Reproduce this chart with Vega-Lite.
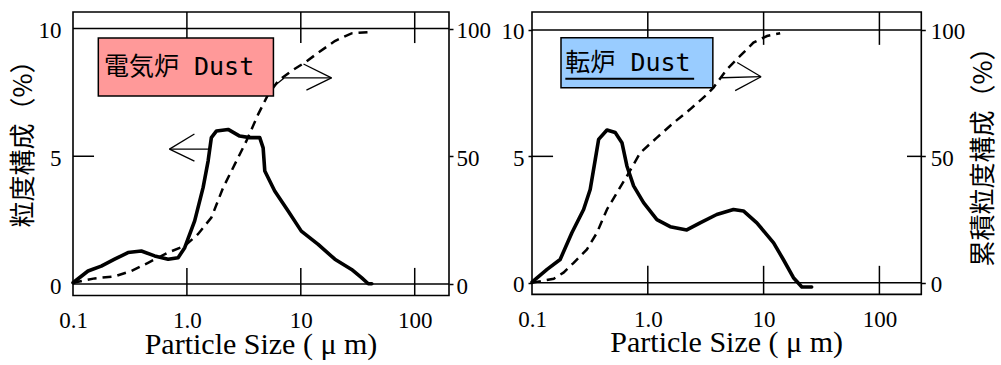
{
  "$schema": "https://vega.github.io/schema/vega-lite/v6.json",
  "background": "white",
  "padding": {"left": 9, "top": 10, "right": 0, "bottom": 0},
  "autosize": {"type": "pad"},
  "config": {
    "view": {"stroke": "black", "strokeWidth": 1.6},
    "axis": {"labelColor": "black", "titleColor": "black"},
    "title": {"font": "Liberation Serif", "fontSize": 30, "fontWeight": "normal", "color": "black"}
  },
  "datasets": {
    "efd": [
      {"size": 0.1, "pct": 0.05}, {"size": 0.1355, "pct": 0.51}, {"size": 0.177, "pct": 0.7}, {"size": 0.232, "pct": 0.97},
      {"size": 0.304, "pct": 1.23}, {"size": 0.398, "pct": 1.29}, {"size": 0.521, "pct": 1.1}, {"size": 0.684, "pct": 0.97},
      {"size": 0.837, "pct": 1.03}, {"size": 0.957, "pct": 1.42}, {"size": 1.17, "pct": 2.47}, {"size": 1.387, "pct": 3.77},
      {"size": 1.535, "pct": 4.81}, {"size": 1.64, "pct": 5.73}, {"size": 1.82, "pct": 5.99}, {"size": 2.3, "pct": 6.05},
      {"size": 2.91, "pct": 5.79}, {"size": 3.56, "pct": 5.73}, {"size": 4.36, "pct": 5.73}, {"size": 4.67, "pct": 5.33},
      {"size": 4.83, "pct": 4.42}, {"size": 5.9, "pct": 3.64}, {"size": 7.74, "pct": 2.86}, {"size": 10.1, "pct": 2.07},
      {"size": 14.2, "pct": 1.55}, {"size": 19.9, "pct": 0.97}, {"size": 27.9, "pct": 0.57}, {"size": 34.1, "pct": 0.25},
      {"size": 39.1, "pct": 0.01}, {"size": 42.0, "pct": 0.01}
    ],
    "efc": [
      {"size": 0.1, "cum": 0.5}, {"size": 0.155, "cum": 2.2}, {"size": 0.232, "cum": 3.0}, {"size": 0.325, "cum": 5.1},
      {"size": 0.456, "cum": 8.3}, {"size": 0.684, "cum": 12.3}, {"size": 0.957, "cum": 14.9}, {"size": 1.25, "cum": 19.5},
      {"size": 1.64, "cum": 26}, {"size": 2.08, "cum": 37.7}, {"size": 2.63, "cum": 46.8}, {"size": 3.33, "cum": 56},
      {"size": 4.22, "cum": 66.4}, {"size": 5.17, "cum": 74.2}, {"size": 6.33, "cum": 79.5}, {"size": 8.28, "cum": 83.4},
      {"size": 10.8, "cum": 86.6}, {"size": 14.2, "cum": 90.5}, {"size": 19.9, "cum": 95.1}, {"size": 27.9, "cum": 98.1},
      {"size": 42, "cum": 98.7}
    ],
    "bofd": [
      {"size": 0.1, "pct": 0.03}, {"size": 0.135, "pct": 0.53}, {"size": 0.175, "pct": 0.92}, {"size": 0.221, "pct": 1.98},
      {"size": 0.279, "pct": 2.9}, {"size": 0.318, "pct": 3.69}, {"size": 0.352, "pct": 4.88}, {"size": 0.376, "pct": 5.67},
      {"size": 0.444, "pct": 6.04}, {"size": 0.523, "pct": 5.94}, {"size": 0.598, "pct": 5.54}, {"size": 0.66, "pct": 4.62},
      {"size": 0.754, "pct": 3.83}, {"size": 0.919, "pct": 3.17}, {"size": 1.198, "pct": 2.5}, {"size": 1.56, "pct": 2.22},
      {"size": 2.17, "pct": 2.09}, {"size": 2.83, "pct": 2.37}, {"size": 3.94, "pct": 2.7}, {"size": 5.49, "pct": 2.9},
      {"size": 6.69, "pct": 2.84}, {"size": 8.74, "pct": 2.37}, {"size": 12.2, "pct": 1.58}, {"size": 14.8, "pct": 0.92},
      {"size": 18.1, "pct": 0.2}, {"size": 21.4, "pct": -0.17}, {"size": 26.0, "pct": -0.17}
    ],
    "bofc": [
      {"size": 0.1, "cum": 0}, {"size": 0.154, "cum": 1.6}, {"size": 0.187, "cum": 4.0}, {"size": 0.229, "cum": 7.9},
      {"size": 0.298, "cum": 13.2}, {"size": 0.364, "cum": 19.8}, {"size": 0.444, "cum": 29.0}, {"size": 0.541, "cum": 35.6},
      {"size": 0.66, "cum": 42.2}, {"size": 0.86, "cum": 51.4}, {"size": 1.198, "cum": 57.4}, {"size": 1.67, "cum": 63.3},
      {"size": 2.32, "cum": 68.6}, {"size": 3.24, "cum": 74.5}, {"size": 3.69, "cum": 77.2}, {"size": 4.81, "cum": 84.4},
      {"size": 6.27, "cum": 89.7}, {"size": 8.17, "cum": 95.0}, {"size": 10.7, "cum": 97.6}, {"size": 13.9, "cum": 98.7}
    ],
    "arL": [
      {"x": 0.703, "y": 5.28, "x2": 1.576, "y2": 5.28},
      {"x": 0.703, "y": 5.28, "x2": 1.164, "y2": 5.87},
      {"x": 0.703, "y": 5.28, "x2": 1.164, "y2": 4.81},
      {"x": 5.84, "y": 7.75, "x2": 7.19, "y2": 8.07},
      {"x": 7.19, "y": 8.07, "x2": 18.6, "y2": 8.07},
      {"x": 18.6, "y": 8.07, "x2": 10.56, "y2": 8.61},
      {"x": 18.6, "y": 8.07, "x2": 11.2, "y2": 7.59}
    ],
    "arR": [
      {"x": 4.36, "y": 8.11, "x2": 9.51, "y2": 8.15},
      {"x": 9.51, "y": 8.15, "x2": 5.91, "y2": 8.71},
      {"x": 9.51, "y": 8.15, "x2": 5.68, "y2": 7.6}
    ],
    "hl": [{"h": 0}, {"h": 10}],
    "dec": [{"d": 1}, {"d": 10}, {"d": 100}],
    "lblL": [{"label": "電気炉 Dust"}],
    "lblR": [{"label": "転炉 Dust"}]
  },
  "spacing": 8,
  "hconcat": [
    {
      "width": 376,
      "height": 283.5,
      "title": {"text": "Particle Size ( μ  m)", "orient": "bottom", "anchor": "middle", "font": "Liberation Serif", "fontSize": 30, "fontWeight": "normal", "color": "black", "offset": -3},
      "resolve": {"scale": {"y": "independent"}},
      "layer": [
        {
          "data": {"name": "efc"},
          "mark": {"type": "line", "stroke": "black", "strokeWidth": 2.5, "strokeDash": [9, 6]},
          "encoding": {
            "x": {"field": "size", "type": "quantitative", "scale": {"type": "log", "domain": [0.1, 200], "nice": false}, "axis": {"title": null, "values": [0.1, 1, 10, 100], "labelExpr": "datum.value < 0.5 ? '0.1' : datum.value < 5 ? '1.0' : datum.value < 50 ? '10' : '100'", "ticks": false, "domain": false, "grid": false, "labelFlush": false, "labelOverlap": false, "labelFont": "Liberation Serif", "labelFontSize": 23, "labelColor": "black", "labelPadding": 14}},
            "y": {"field": "cum", "type": "quantitative", "scale": {"domain": [-4.5, 106.46], "nice": false, "zero": false},
              "axis": {"orient": "right", "values": [0, 50, 100], "title": null, "domain": false, "grid": false, "tickSize": 4, "tickWidth": 1.5, "tickColor": "black", "labelPadding": 3, "labelOffset": 2, "labelFont": "Liberation Serif", "labelFontSize": 23, "labelColor": "black"}}
          }
        },
        {
          "data": {"name": "hl"},
          "mark": {"type": "rule", "stroke": "black", "strokeWidth": 1.5},
          "encoding": {"y": {"field": "h", "type": "quantitative", "scale": {"domain": [-0.45, 10.646], "nice": false, "zero": false}, "axis": null}}
        },
        {
          "data": {"name": "dec"},
          "mark": {"type": "rule", "stroke": "black", "strokeWidth": 1.5},
          "encoding": {"x": {"field": "d", "type": "quantitative", "axis": {"title": null, "values": [0.1, 1, 10, 100], "labelExpr": "datum.value < 0.5 ? '0.1' : datum.value < 5 ? '1.0' : datum.value < 50 ? '10' : '100'", "ticks": false, "domain": false, "grid": false, "labelFlush": false, "labelOverlap": false, "labelFont": "Liberation Serif", "labelFontSize": 23, "labelColor": "black", "labelPadding": 14}}, "y": {"datum": -0.45, "scale": {"domain": [-0.45, 10.646], "nice": false, "zero": false}, "axis": null}, "y2": {"datum": 0.63}}
        },
        {
          "data": {"name": "dec"},
          "mark": {"type": "rule", "stroke": "black", "strokeWidth": 1.5},
          "encoding": {"x": {"field": "d", "type": "quantitative", "axis": {"title": null, "values": [0.1, 1, 10, 100], "labelExpr": "datum.value < 0.5 ? '0.1' : datum.value < 5 ? '1.0' : datum.value < 50 ? '10' : '100'", "ticks": false, "domain": false, "grid": false, "labelFlush": false, "labelOverlap": false, "labelFont": "Liberation Serif", "labelFontSize": 23, "labelColor": "black", "labelPadding": 14}}, "y": {"datum": 9.43, "scale": {"domain": [-0.45, 10.646], "nice": false, "zero": false}, "axis": null}, "y2": {"datum": 10.646}}
        },
        {
          "data": {"name": "lblL"},
          "mark": {"type": "rule", "stroke": "black", "strokeWidth": 1.5},
          "encoding": {"x": {"datum": 0.1, "axis": {"title": null, "values": [0.1, 1, 10, 100], "labelExpr": "datum.value < 0.5 ? '0.1' : datum.value < 5 ? '1.0' : datum.value < 50 ? '10' : '100'", "ticks": false, "domain": false, "grid": false, "labelFlush": false, "labelOverlap": false, "labelFont": "Liberation Serif", "labelFontSize": 23, "labelColor": "black", "labelPadding": 14}}, "x2": {"datum": 0.153}, "y": {"datum": 5, "scale": {"domain": [-0.45, 10.646], "nice": false, "zero": false}, "axis": null}}
        },
        {
          "data": {"name": "efd"},
          "mark": {"type": "line", "stroke": "black", "strokeWidth": 3.6, "strokeJoin": "round", "strokeCap": "round"},
          "encoding": {
            "x": {"field": "size", "type": "quantitative", "scale": {"type": "log", "domain": [0.1, 200], "nice": false}, "axis": {"title": null, "values": [0.1, 1, 10, 100], "labelExpr": "datum.value < 0.5 ? '0.1' : datum.value < 5 ? '1.0' : datum.value < 50 ? '10' : '100'", "ticks": false, "domain": false, "grid": false, "labelFlush": false, "labelOverlap": false, "labelFont": "Liberation Serif", "labelFontSize": 23, "labelColor": "black", "labelPadding": 14}},
            "y": {"field": "pct", "type": "quantitative", "scale": {"domain": [-0.45, 10.646], "nice": false, "zero": false},
              "axis": {"orient": "left", "values": [0, 5, 10], "ticks": false, "domain": false, "grid": false, "labelPadding": 12, "labelOffset": 2, "labelFont": "Liberation Serif", "labelFontSize": 23, "labelColor": "black", "title": "粒度構成（%）", "titleFont": "Noto Sans CJK JP", "titleFontSize": 26, "titleFontWeight": "normal", "titleColor": "black", "titleAngle": 270, "titleX": -62.7, "titleY": 125, "titleAlign": "center", "titleBaseline": "top"}}
          }
        },
        {
          "data": {"name": "lblL"},
          "mark": {"type": "rect", "fill": "#FF9999", "stroke": "black", "strokeWidth": 1.5},
          "encoding": {"x": {"datum": 0.1668, "axis": {"title": null, "values": [0.1, 1, 10, 100], "labelExpr": "datum.value < 0.5 ? '0.1' : datum.value < 5 ? '1.0' : datum.value < 50 ? '10' : '100'", "ticks": false, "domain": false, "grid": false, "labelFlush": false, "labelOverlap": false, "labelFont": "Liberation Serif", "labelFontSize": 23, "labelColor": "black", "labelPadding": 14}}, "x2": {"datum": 5.75}, "y": {"datum": 7.36, "scale": {"domain": [-0.45, 10.646], "nice": false, "zero": false}, "axis": null}, "y2": {"datum": 9.63}}
        },
        {
          "data": {"name": "lblL"},
          "mark": {"type": "text", "align": "left", "baseline": "middle", "font": "DejaVu Sans Mono, Noto Sans CJK JP", "fontSize": 25, "color": "black"},
          "encoding": {"x": {"datum": 0.187, "axis": {"title": null, "values": [0.1, 1, 10, 100], "labelExpr": "datum.value < 0.5 ? '0.1' : datum.value < 5 ? '1.0' : datum.value < 50 ? '10' : '100'", "ticks": false, "domain": false, "grid": false, "labelFlush": false, "labelOverlap": false, "labelFont": "Liberation Serif", "labelFontSize": 23, "labelColor": "black", "labelPadding": 14}}, "y": {"datum": 8.49, "scale": {"domain": [-0.45, 10.646], "nice": false, "zero": false}, "axis": null}, "text": {"field": "label"}}
        },
        {
          "data": {"name": "arL"},
          "mark": {"type": "rule", "stroke": "black", "strokeWidth": 1.3},
          "encoding": {"x": {"field": "x", "type": "quantitative", "axis": {"title": null, "values": [0.1, 1, 10, 100], "labelExpr": "datum.value < 0.5 ? '0.1' : datum.value < 5 ? '1.0' : datum.value < 50 ? '10' : '100'", "ticks": false, "domain": false, "grid": false, "labelFlush": false, "labelOverlap": false, "labelFont": "Liberation Serif", "labelFontSize": 23, "labelColor": "black", "labelPadding": 14}}, "x2": {"field": "x2"}, "y": {"field": "y", "type": "quantitative", "scale": {"domain": [-0.45, 10.646], "nice": false, "zero": false}, "axis": null}, "y2": {"field": "y2"}}
        }
      ]
    },
    {
      "width": 389.3,
      "height": 282.4,
      "title": {"text": "Particle Size ( μ  m)", "orient": "bottom", "anchor": "middle", "font": "Liberation Serif", "fontSize": 30, "fontWeight": "normal", "color": "black", "offset": -3},
      "resolve": {"scale": {"y": "independent"}},
      "layer": [
        {
          "data": {"name": "bofc"},
          "mark": {"type": "line", "stroke": "black", "strokeWidth": 2.5, "strokeDash": [9, 6]},
          "encoding": {
            "x": {"field": "size", "type": "quantitative", "scale": {"type": "log", "domain": [0.1, 230], "nice": false}, "axis": {"title": null, "values": [0.1, 1, 10, 100], "labelExpr": "datum.value < 0.5 ? '0.1' : datum.value < 5 ? '1.0' : datum.value < 50 ? '10' : '100'", "ticks": false, "domain": false, "grid": false, "labelFlush": false, "labelOverlap": false, "labelFont": "Liberation Serif", "labelFontSize": 23, "labelColor": "black", "labelPadding": 14}},
            "y": {"field": "cum", "type": "quantitative", "scale": {"domain": [-4.6, 107.1], "nice": false, "zero": false},
              "axis": {"orient": "right", "values": [0, 50, 100], "domain": false, "grid": false, "tickSize": 4, "tickWidth": 1.5, "tickColor": "black", "labelPadding": 5, "labelOffset": 2, "labelFont": "Liberation Serif", "labelFontSize": 23, "labelColor": "black", "title": "累積粒度構成（%）", "titleFont": "Noto Sans CJK JP", "titleFontSize": 26, "titleFontWeight": "normal", "titleColor": "black", "titleAngle": 270, "titleX": 49, "titleY": 138, "titleAlign": "center", "titleBaseline": "top"}}
          }
        },
        {
          "data": {"name": "hl"},
          "mark": {"type": "rule", "stroke": "black", "strokeWidth": 1.5},
          "encoding": {"y": {"field": "h", "type": "quantitative", "scale": {"domain": [-0.46, 10.71], "nice": false, "zero": false}, "axis": null}}
        },
        {
          "data": {"name": "dec"},
          "mark": {"type": "rule", "stroke": "black", "strokeWidth": 1.5},
          "encoding": {"x": {"field": "d", "type": "quantitative", "axis": {"title": null, "values": [0.1, 1, 10, 100], "labelExpr": "datum.value < 0.5 ? '0.1' : datum.value < 5 ? '1.0' : datum.value < 50 ? '10' : '100'", "ticks": false, "domain": false, "grid": false, "labelFlush": false, "labelOverlap": false, "labelFont": "Liberation Serif", "labelFontSize": 23, "labelColor": "black", "labelPadding": 14}}, "y": {"datum": -0.46, "scale": {"domain": [-0.46, 10.71], "nice": false, "zero": false}, "axis": null}, "y2": {"datum": 0.67}}
        },
        {
          "data": {"name": "dec"},
          "mark": {"type": "rule", "stroke": "black", "strokeWidth": 1.5},
          "encoding": {"x": {"field": "d", "type": "quantitative", "axis": {"title": null, "values": [0.1, 1, 10, 100], "labelExpr": "datum.value < 0.5 ? '0.1' : datum.value < 5 ? '1.0' : datum.value < 50 ? '10' : '100'", "ticks": false, "domain": false, "grid": false, "labelFlush": false, "labelOverlap": false, "labelFont": "Liberation Serif", "labelFontSize": 23, "labelColor": "black", "labelPadding": 14}}, "y": {"datum": 9.41, "scale": {"domain": [-0.46, 10.71], "nice": false, "zero": false}, "axis": null}, "y2": {"datum": 10.71}}
        },
        {
          "data": {"name": "lblR"},
          "mark": {"type": "rule", "stroke": "black", "strokeWidth": 1.5},
          "encoding": {"x": {"datum": 0.1, "axis": {"title": null, "values": [0.1, 1, 10, 100], "labelExpr": "datum.value < 0.5 ? '0.1' : datum.value < 5 ? '1.0' : datum.value < 50 ? '10' : '100'", "ticks": false, "domain": false, "grid": false, "labelFlush": false, "labelOverlap": false, "labelFont": "Liberation Serif", "labelFontSize": 23, "labelColor": "black", "labelPadding": 14}}, "x2": {"datum": 0.152}, "y": {"datum": 5, "scale": {"domain": [-0.46, 10.71], "nice": false, "zero": false}, "axis": null}}
        },
        {
          "data": {"name": "lblR"},
          "mark": {"type": "rule", "stroke": "black", "strokeWidth": 1.5},
          "encoding": {"x": {"datum": 173, "axis": {"title": null, "values": [0.1, 1, 10, 100], "labelExpr": "datum.value < 0.5 ? '0.1' : datum.value < 5 ? '1.0' : datum.value < 50 ? '10' : '100'", "ticks": false, "domain": false, "grid": false, "labelFlush": false, "labelOverlap": false, "labelFont": "Liberation Serif", "labelFontSize": 23, "labelColor": "black", "labelPadding": 14}}, "x2": {"datum": 230}, "y": {"datum": 5, "scale": {"domain": [-0.46, 10.71], "nice": false, "zero": false}, "axis": null}}
        },
        {
          "data": {"name": "bofd"},
          "mark": {"type": "line", "stroke": "black", "strokeWidth": 3.6, "strokeJoin": "round", "strokeCap": "round"},
          "encoding": {
            "x": {"field": "size", "type": "quantitative", "scale": {"type": "log", "domain": [0.1, 230], "nice": false}, "axis": {"title": null, "values": [0.1, 1, 10, 100], "labelExpr": "datum.value < 0.5 ? '0.1' : datum.value < 5 ? '1.0' : datum.value < 50 ? '10' : '100'", "ticks": false, "domain": false, "grid": false, "labelFlush": false, "labelOverlap": false, "labelFont": "Liberation Serif", "labelFontSize": 23, "labelColor": "black", "labelPadding": 14}},
            "y": {"field": "pct", "type": "quantitative", "scale": {"domain": [-0.46, 10.71], "nice": false, "zero": false},
              "axis": {"orient": "left", "values": [0, 5, 10], "title": null, "domain": false, "grid": false, "tickSize": 4, "tickWidth": 1.5, "tickColor": "black", "labelPadding": 4, "labelOffset": 2, "labelFont": "Liberation Serif", "labelFontSize": 23, "labelColor": "black"}}
          }
        },
        {
          "data": {"name": "lblR"},
          "mark": {"type": "rect", "fill": "#99CCFF", "stroke": "black", "strokeWidth": 1.5},
          "encoding": {"x": {"datum": 0.178, "axis": {"title": null, "values": [0.1, 1, 10, 100], "labelExpr": "datum.value < 0.5 ? '0.1' : datum.value < 5 ? '1.0' : datum.value < 50 ? '10' : '100'", "ticks": false, "domain": false, "grid": false, "labelFlush": false, "labelOverlap": false, "labelFont": "Liberation Serif", "labelFontSize": 23, "labelColor": "black", "labelPadding": 14}}, "x2": {"datum": 3.645}, "y": {"datum": 7.717, "scale": {"domain": [-0.46, 10.71], "nice": false, "zero": false}, "axis": null}, "y2": {"datum": 9.695}}
        },
        {
          "data": {"name": "lblR"},
          "mark": {"type": "text", "align": "left", "baseline": "middle", "font": "DejaVu Sans Mono, Noto Sans CJK JP", "fontSize": 25, "color": "black"},
          "encoding": {"x": {"datum": 0.194, "axis": {"title": null, "values": [0.1, 1, 10, 100], "labelExpr": "datum.value < 0.5 ? '0.1' : datum.value < 5 ? '1.0' : datum.value < 50 ? '10' : '100'", "ticks": false, "domain": false, "grid": false, "labelFlush": false, "labelOverlap": false, "labelFont": "Liberation Serif", "labelFontSize": 23, "labelColor": "black", "labelPadding": 14}}, "y": {"datum": 8.71, "scale": {"domain": [-0.46, 10.71], "nice": false, "zero": false}, "axis": null}, "text": {"field": "label"}}
        },
        {
          "data": {"name": "lblR"},
          "mark": {"type": "rule", "stroke": "black", "strokeWidth": 2},
          "encoding": {"x": {"datum": 0.194, "axis": {"title": null, "values": [0.1, 1, 10, 100], "labelExpr": "datum.value < 0.5 ? '0.1' : datum.value < 5 ? '1.0' : datum.value < 50 ? '10' : '100'", "ticks": false, "domain": false, "grid": false, "labelFlush": false, "labelOverlap": false, "labelFont": "Liberation Serif", "labelFontSize": 23, "labelColor": "black", "labelPadding": 14}}, "x2": {"datum": 2.513}, "y": {"datum": 8.07, "scale": {"domain": [-0.46, 10.71], "nice": false, "zero": false}, "axis": null}}
        },
        {
          "data": {"name": "arR"},
          "mark": {"type": "rule", "stroke": "black", "strokeWidth": 1.3},
          "encoding": {"x": {"field": "x", "type": "quantitative", "axis": {"title": null, "values": [0.1, 1, 10, 100], "labelExpr": "datum.value < 0.5 ? '0.1' : datum.value < 5 ? '1.0' : datum.value < 50 ? '10' : '100'", "ticks": false, "domain": false, "grid": false, "labelFlush": false, "labelOverlap": false, "labelFont": "Liberation Serif", "labelFontSize": 23, "labelColor": "black", "labelPadding": 14}}, "x2": {"field": "x2"}, "y": {"field": "y", "type": "quantitative", "scale": {"domain": [-0.46, 10.71], "nice": false, "zero": false}, "axis": null}, "y2": {"field": "y2"}}
        }
      ]
    }
  ]
}
